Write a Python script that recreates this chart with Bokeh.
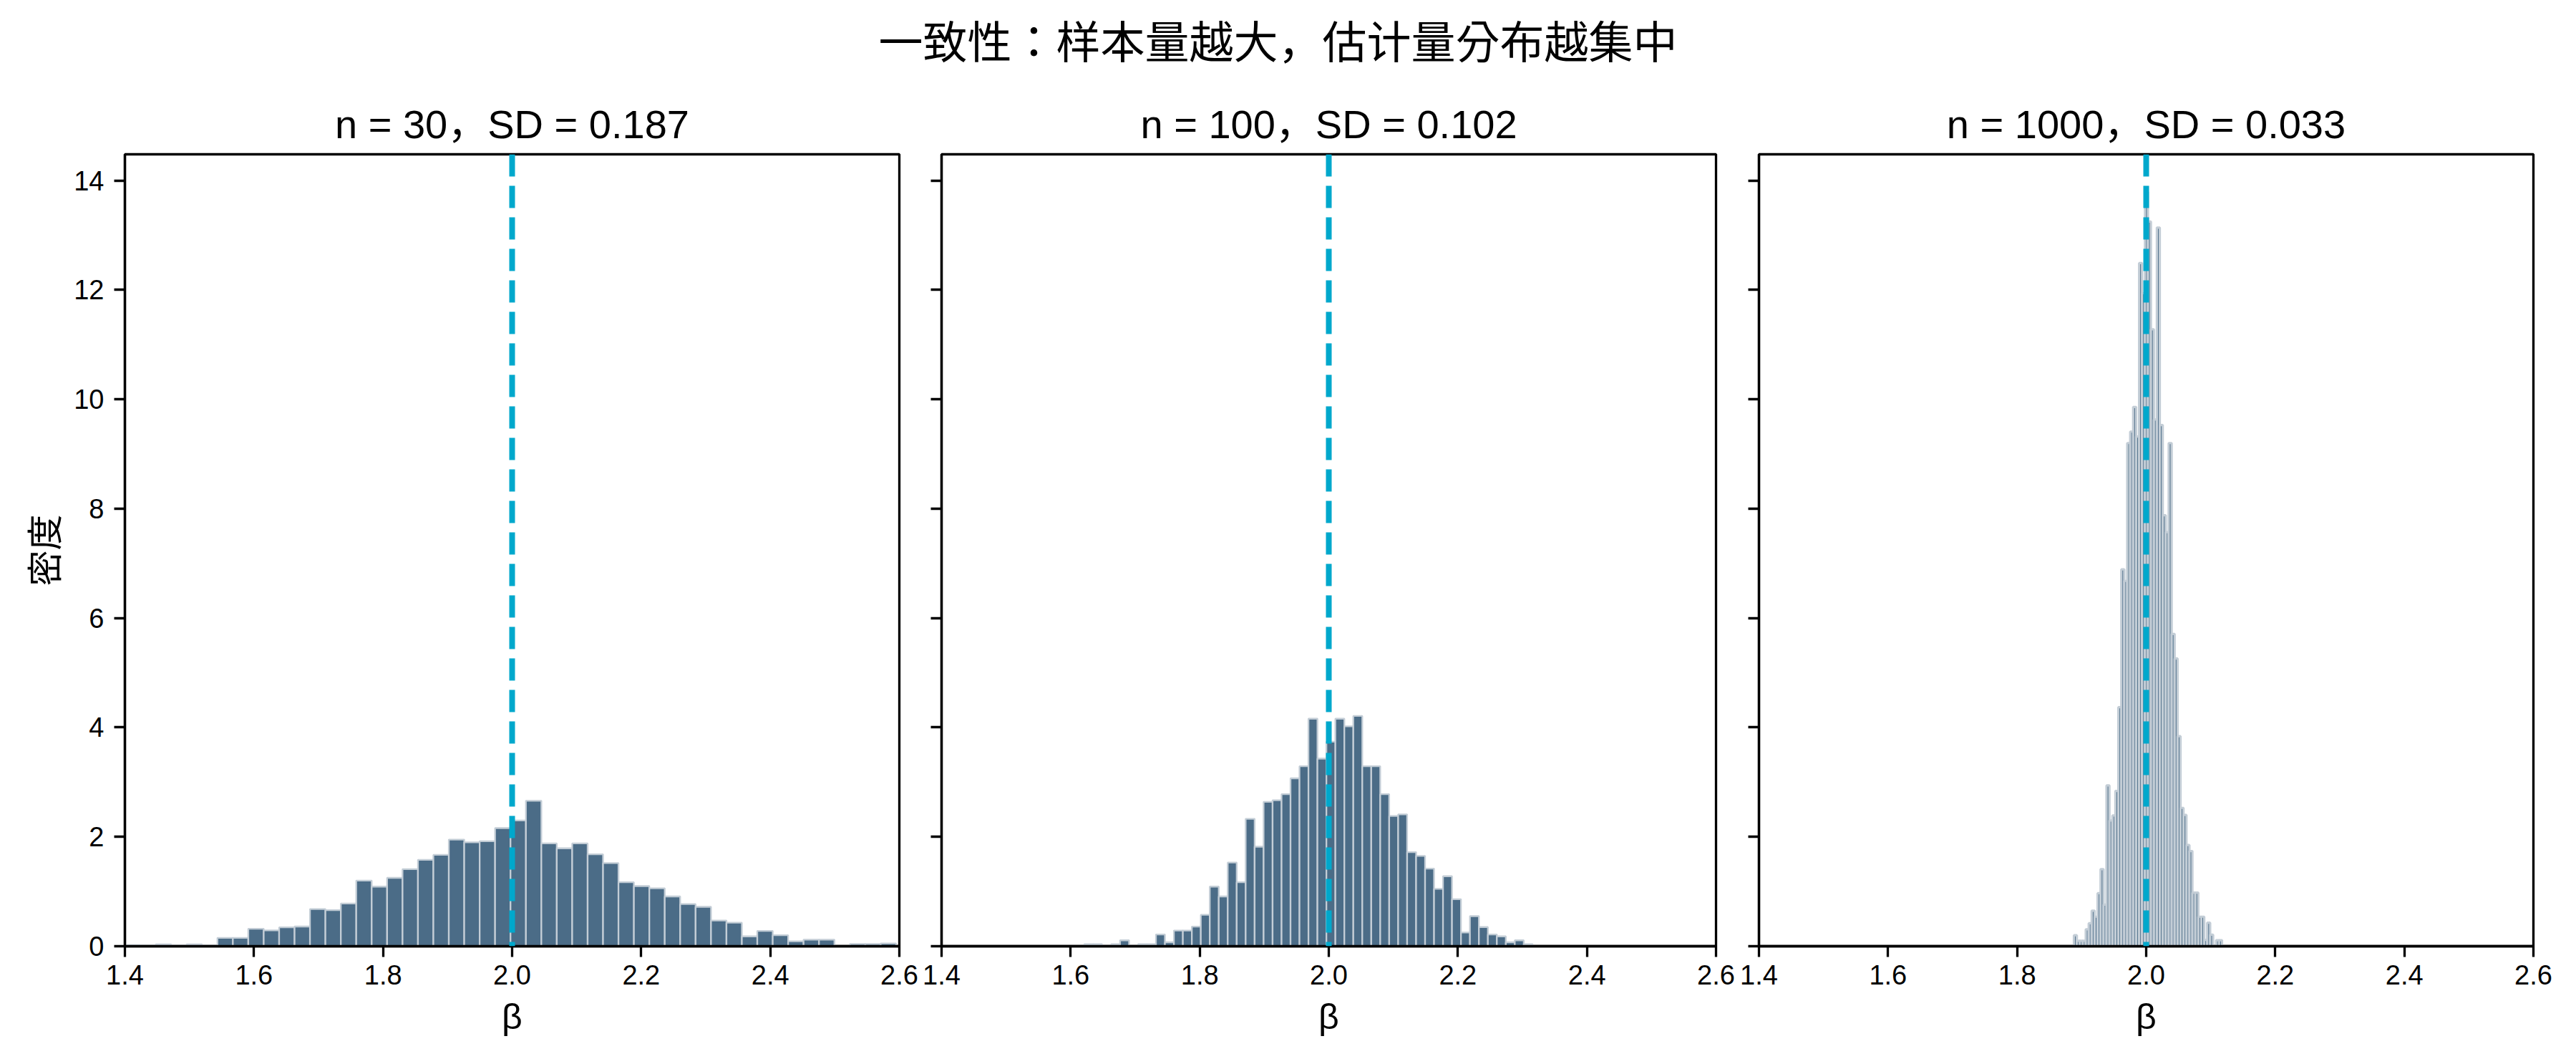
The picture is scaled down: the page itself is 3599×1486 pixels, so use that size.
import numpy as np
from bokeh.plotting import figure
from bokeh.models import Range1d, FixedTicker, Span, Label, ColumnDataSource, PrintfTickFormatter
from bokeh.layouts import column, row
from bokeh.embed import file_html
from bokeh.resources import INLINE

# ---------------- data ----------------
SUPTITLE = "一致性：样本量越大，估计量分布越集中"
TRUE_BETA = 2.0
sample_sizes = [30, 100, 1000]
sd_values = [0.187, 0.102, 0.033]
x_ticks = [1.4, 1.6, 1.8, 2.0, 2.2, 2.4, 2.6]
y_ticks = [0, 2, 4, 6, 8, 10, 12, 14]
x_label = "β"
y_label = "密度"
x_limits = [1.4, 2.6]

# histogram of beta-hat estimates (density), n = 30
bin_start_30 = 1.400
bin_width_30 = 0.0239
density_30 = [0.021, 0.010, 0.035, 0.010, 0.035, 0.010, 0.153, 0.153, 0.32, 0.29,
              0.345, 0.36, 0.68, 0.66, 0.78, 1.20, 1.09, 1.25, 1.41, 1.58,
              1.67, 1.95, 1.90, 1.92, 2.16, 2.30, 2.66, 1.88, 1.79, 1.88,
              1.68, 1.52, 1.17, 1.10, 1.06, 0.91, 0.77, 0.72, 0.47, 0.43,
              0.18, 0.28, 0.20, 0.09, 0.12, 0.12, 0.0, 0.04, 0.04, 0.05]

# n = 100
bin_start_100 = 1.621
bin_width_100 = 0.0139
density_100 = [0.036, 0.036, 0.0, 0.036, 0.108, 0.0, 0.036, 0.036, 0.215, 0.072,
               0.287, 0.287, 0.359, 0.574, 1.09, 0.91, 1.53, 1.17, 2.33, 1.82,
               2.64, 2.67, 2.78, 3.07, 3.29, 4.16, 3.43, 3.74, 4.16, 4.02,
               4.21, 3.29, 3.29, 2.78, 2.38, 2.41, 1.72, 1.65, 1.42, 1.05,
               1.28, 0.86, 0.25, 0.55, 0.35, 0.215, 0.18, 0.072, 0.108, 0.036]

# n = 1000
bin_start_1000 = 1.888
bin_width_1000 = 0.00459
density_1000 = [0.20, 0.10, 0.10, 0.10, 0.31, 0.42, 0.65, 0.54, 0.97, 1.41,
                0.76, 2.94, 2.30, 2.39, 2.84, 4.37, 6.89, 6.68, 9.20, 9.41,
                9.86, 9.32, 12.49, 11.94, 13.79, 13.25, 11.28, 9.63, 13.14, 9.53,
                7.88, 7.57, 9.20, 5.71, 5.26, 3.84, 2.53, 2.40, 1.85, 1.74,
                0.98, 0.98, 0.54, 0.54, 0.115, 0.43, 0.21, 0.0, 0.11, 0.11]

panels = [
    (sample_sizes[0], sd_values[0], bin_start_30, bin_width_30, density_30),
    (sample_sizes[1], sd_values[1], bin_start_100, bin_width_100, density_100),
    (sample_sizes[2], sd_values[2], bin_start_1000, bin_width_1000, density_1000),
]

# ---------------- style ----------------
FONT = "'Liberation Sans', 'Noto Sans CJK KR', sans-serif"
BAR_FILL = "#4b6c87"
BAR_EDGE = "#c3cdd6"
EDGE_WIDTHS = [2.3, 2.3, 3.2]
TRUE_COLOR = "#00a8cc"
FRAME_W, FRAME_H = 1082, 1106
TOP_H = 117
TOTAL_W = 3570
borders = [(174, 29), (30, 30), (30, 30)]

y_max = 1.05 * max(max(d) for d in (density_30, density_100, density_1000))
y_range = Range1d(0, y_max)

# ---------------- suptitle strip ----------------
top = figure(width=TOTAL_W, height=TOP_H, x_range=Range1d(0, TOTAL_W), y_range=Range1d(0, TOP_H),
             output_backend="svg", toolbar_location=None, min_border=0)
top.axis.visible = False
top.grid.visible = False
top.outline_line_color = None
top.add_layout(Label(x=1785, y=TOP_H - 60, text=SUPTITLE, text_align="center", text_baseline="middle",
                     text_font=FONT, text_font_size="62px", text_color="black"))

figs = []
for i, (n, sd, start, width, dens) in enumerate(panels):
    dens = np.asarray(dens, dtype=float)
    left = start + width * np.arange(len(dens))
    src = ColumnDataSource(dict(left=left, right=left + width, top=dens, bottom=np.zeros_like(dens)))
    bl, br = borders[i]
    p = figure(frame_width=FRAME_W, frame_height=FRAME_H, x_range=Range1d(*x_limits), y_range=y_range,
               output_backend="svg", toolbar_location=None,
               min_border_left=bl, min_border_right=br, min_border_top=98, min_border_bottom=150)
    p.quad(left="left", right="right", top="top", bottom="bottom", source=src,
           fill_color=BAR_FILL, line_color=BAR_EDGE, line_width=EDGE_WIDTHS[i])
    p.add_layout(Span(location=TRUE_BETA, dimension="height", line_color=TRUE_COLOR,
                      line_width=8, line_dash="31 13"))
    p.grid.visible = False
    p.outline_line_color = "black"
    p.outline_line_width = 3.3
    p.title.text = f"n = {n}，SD = {sd:.3f}"
    p.title.align = "center"
    p.title.text_font = FONT
    p.title.text_font_size = "56px"
    p.title.text_font_style = "normal"
    p.title.text_color = "black"
    p.title.standoff = 21

    for ax in (p.xaxis[0], p.yaxis[0]):
        ax.axis_line_color = "black"
        ax.axis_line_width = 3.3
        ax.major_tick_line_color = "black"
        ax.major_tick_line_width = 3.3
        ax.major_tick_out = 15
        ax.major_tick_in = 0
        ax.minor_tick_line_color = None
        ax.major_label_text_font = FONT
        ax.major_label_text_font_size = "38px"
        ax.major_label_text_color = "black"
        ax.axis_label_text_font = FONT
        ax.axis_label_text_font_size = "50px"
        ax.axis_label_text_font_style = "normal"
        ax.axis_label_text_color = "black"

    p.xaxis.ticker = FixedTicker(ticks=x_ticks)
    p.xaxis.formatter = PrintfTickFormatter(format="%.1f")
    p.xaxis.major_label_standoff = 11
    p.xaxis.axis_label = x_label
    p.xaxis.axis_label_standoff = 14

    p.yaxis.ticker = FixedTicker(ticks=y_ticks)
    if i == 0:
        p.yaxis.axis_label = y_label
        p.yaxis.major_label_standoff = 14
        p.yaxis.axis_label_standoff = 8
    else:
        p.yaxis.major_label_overrides = {t: "" for t in y_ticks}
        p.yaxis.major_label_standoff = 0
    figs.append(p)

layout = column(top, row(*figs, spacing=0), spacing=0)
open("out.html", "w").write(file_html(layout, INLINE))
